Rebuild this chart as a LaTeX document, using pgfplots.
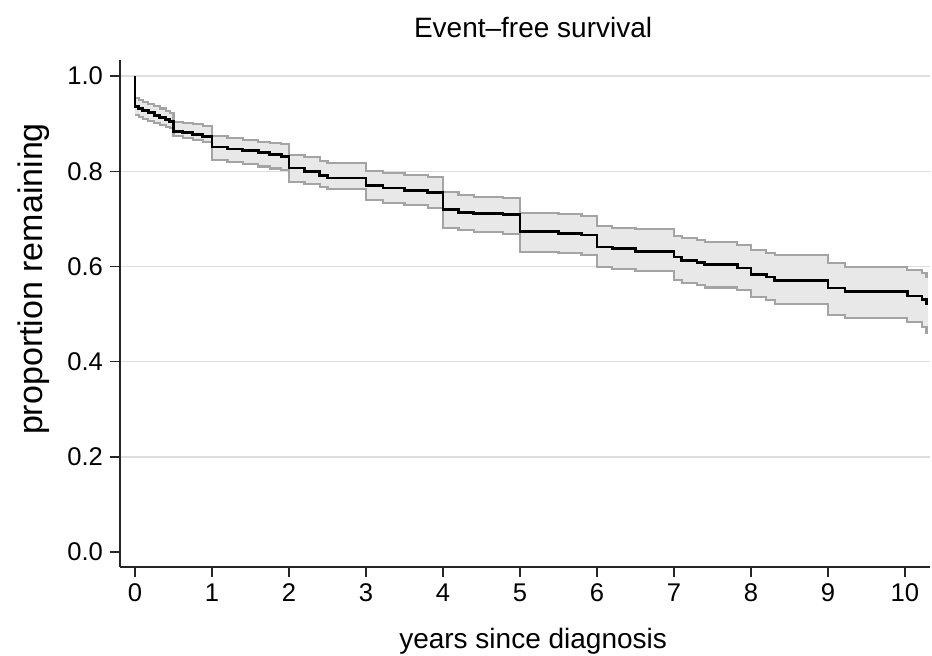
\documentclass[border=0pt]{standalone}
\usepackage{pgfplots}
\pgfplotsset{compat=1.18}
\usepackage{pgfplotstable}
\usepgfplotslibrary{fillbetween}
\usepackage{fontspec}
\setmainfont{Liberation Sans}
\definecolor{bandfill}{HTML}{E8E8E8}
\definecolor{bandline}{HTML}{A4A4A4}
\definecolor{gridc}{HTML}{DEDEDE}

\pgfplotstableread{
t s lo hi
0 1.000 0.918 0.954
0 0.937 0.918 0.954
0.05 0.932 0.914 0.950
0.10 0.928 0.910 0.946
0.17 0.923 0.905 0.941
0.25 0.918 0.901 0.937
0.32 0.913 0.897 0.932
0.40 0.909 0.894 0.927
0.45 0.905 0.891 0.922
0.50 0.884 0.874 0.903
0.62 0.881 0.870 0.901
0.75 0.877 0.866 0.899
0.88 0.874 0.861 0.895
1.00 0.851 0.824 0.874
1.20 0.847 0.820 0.870
1.40 0.843 0.815 0.866
1.60 0.839 0.810 0.862
1.75 0.836 0.806 0.859
1.90 0.832 0.802 0.857
2.00 0.807 0.777 0.834
2.20 0.799 0.773 0.830
2.40 0.791 0.767 0.821
2.50 0.786 0.763 0.817
3.00 0.771 0.739 0.800
3.22 0.765 0.733 0.796
3.50 0.760 0.729 0.792
3.80 0.756 0.723 0.788
4.00 0.720 0.681 0.756
4.20 0.714 0.676 0.750
4.40 0.712 0.672 0.746
4.78 0.710 0.668 0.744
5.00 0.674 0.630 0.712
5.50 0.670 0.628 0.710
5.80 0.666 0.624 0.706
6.00 0.641 0.599 0.685
6.20 0.637 0.595 0.681
6.50 0.632 0.590 0.678
7.00 0.620 0.571 0.664
7.10 0.613 0.565 0.660
7.30 0.609 0.561 0.655
7.40 0.605 0.556 0.651
7.82 0.597 0.550 0.645
8.00 0.584 0.536 0.634
8.20 0.578 0.529 0.628
8.31 0.571 0.521 0.624
9.00 0.555 0.498 0.607
9.22 0.548 0.492 0.599
10.03 0.538 0.483 0.592
10.22 0.531 0.473 0.586
10.28 0.523 0.460 0.578
10.30 0.523 0.460 0.578
}\km

\begin{document}
\begin{tikzpicture}
\begin{axis}[name=ax,
  scale only axis, width=405pt, height=253.5pt,
  xmin=-0.195, xmax=10.325, ymin=-0.0315, ymax=1.034,
  axis lines=left, axis line style={-, line width=1pt, black!85},
  tick align=outside, major tick length=5pt,
  tick style={black!85, line width=0.75pt},
  xtick={0,1,2,3,4,5,6,7,8,9,10},
  ytick={0,0.2,0.4,0.6,0.8,1.0},
  yticklabels={0.0,0.2,0.4,0.6,0.8,1.0},
  extra y ticks={0.2,0.4,0.6,0.8,1.0},
  extra y tick labels={},
  extra y tick style={grid=major, major tick length=0pt},
  major grid style={gridc, line width=0.8pt},
  ticklabel style={font=\fontsize{12.8}{14}\selectfont},
  /pgf/number format/assume math mode=true,
  xlabel={years since diagnosis},
  ylabel={proportion remaining},
  title={Event–free survival},
  xlabel style={font=\fontsize{14}{16}\selectfont, at={(axis description cs:0.51,-0.146)}, anchor=center},
  ylabel style={font=\fontsize{17}{19}\selectfont, at={(axis description cs:-0.107,0.568)}, anchor=center},
  title style={font=\fontsize{14}{16}\selectfont, at={(axis description cs:0.51,1.0414)}, anchor=center},
  no marks,
]
\addplot[name path=hi, const plot, draw=none] table[x=t,y=hi]{\km};
\addplot[name path=lo, const plot, draw=none] table[x=t,y=lo]{\km};
\addplot[fill=bandfill, draw=none] fill between[of=hi and lo];
\addplot[const plot, draw=bandline, line width=1.1pt] table[x=t,y=hi]{\km};
\addplot[const plot, draw=bandline, line width=1.1pt] table[x=t,y=lo]{\km};
\addplot[const plot, draw=black, line width=1.4pt] table[x=t,y=s]{\km};
\end{axis}
\pgfresetboundingbox
\path ([shift={(-60pt,-44.5pt)}]ax.south west) rectangle ([shift={(406pt,283.5pt)}]ax.south west);
\end{tikzpicture}
\end{document}
